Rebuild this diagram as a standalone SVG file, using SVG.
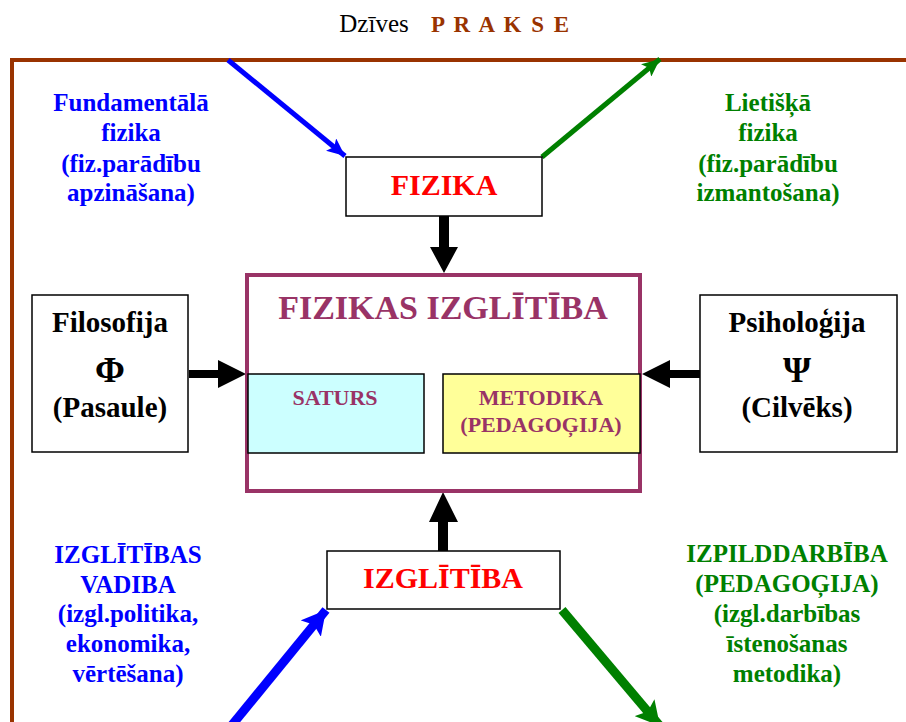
<svg xmlns="http://www.w3.org/2000/svg" width="906" height="722" viewBox="0 0 906 722">
<style>
text{font-family:"Liberation Serif","Times New Roman",serif;font-weight:bold;text-anchor:middle}
.blue{fill:#0000FF;font-size:25px}
.green{fill:#008000;font-size:25px}
.blk{fill:#000;font-size:29px}
.sym{fill:#000;font-size:36px}
.box{fill:#fff;stroke:#000;stroke-width:1.5}
.pur{fill:#993366}
.ttl{font-weight:normal;font-size:25px;fill:#000}
.prk{fill:#993300;font-size:23px;letter-spacing:2px}
</style>
<defs>
<marker id="hb1" markerUnits="userSpaceOnUse" markerWidth="20" markerHeight="16" refX="18" refY="8" orient="auto"><path d="M0,0 L18,8 L0,16 L4,8 Z" fill="#0000FF"/></marker>
<marker id="hg1" markerUnits="userSpaceOnUse" markerWidth="20" markerHeight="16" refX="18" refY="8" orient="auto"><path d="M0,0 L18,8 L0,16 L4,8 Z" fill="#008000"/></marker>
<marker id="hb2" markerUnits="userSpaceOnUse" markerWidth="26" markerHeight="26" refX="24" refY="13" orient="auto"><path d="M0,0 L24,13 L0,26 L5,13 Z" fill="#0000FF"/></marker>
<marker id="hg2" markerUnits="userSpaceOnUse" markerWidth="26" markerHeight="26" refX="24" refY="13" orient="auto"><path d="M0,0 L24,13 L0,26 L5,13 Z" fill="#008000"/></marker>
</defs>

<text class="ttl" x="374" y="32">Dzīves</text>
<text class="prk" x="501" y="32">P R A K S E</text>

<path d="M12,722 L12,60 L906,60" fill="none" stroke="#993300" stroke-width="4"/>

<g id="connectors">
<line x1="228" y1="60" x2="345" y2="156" stroke="#0000FF" stroke-width="5" marker-end="url(#hb1)"/>
<line x1="542" y1="157" x2="660" y2="59" stroke="#008000" stroke-width="5" marker-end="url(#hg1)"/>
<line x1="232" y1="725" x2="326" y2="610" stroke="#0000FF" stroke-width="9" marker-end="url(#hb2)"/>
<line x1="562" y1="610" x2="660" y2="726" stroke="#008000" stroke-width="9" marker-end="url(#hg2)"/>
<polygon points="439,216 449,216 449,247 458,247 444,273 430,247 439,247" fill="#000"/>
<polygon points="438,551 448,551 448,522 458,522 443,492 429,522 438,522" fill="#000"/>
<polygon points="189,370 218,370 218,360 246,374 218,388 218,378 189,378" fill="#000"/>
<polygon points="700,370 670,370 670,360 642,374 670,388 670,378 700,378" fill="#000"/>
<line x1="424" y1="334" x2="346" y2="373" stroke="#000" stroke-width="2"/>
<line x1="443" y1="334" x2="522" y2="373" stroke="#000" stroke-width="2"/>
</g>

<g id="label-fund">
<text class="blue" x="131" y="111">Fundamentālā</text>
<text class="blue" x="131" y="141">fizika</text>
<text class="blue" x="131" y="172">(fiz.parādību</text>
<text class="blue" x="131" y="201">apzināšana)</text>
</g>
<g id="label-liet">
<text class="green" x="768" y="111">Lietišķā</text>
<text class="green" x="768" y="141">fizika</text>
<text class="green" x="768" y="172">(fiz.parādību</text>
<text class="green" x="768" y="201">izmantošana)</text>
</g>

<g id="fizika">
<rect class="box" x="346" y="157" width="196" height="59"/>
<text x="444" y="195" fill="#FF0000" font-size="30px">FIZIKA</text>
</g>

<g id="fizikas-izglitiba">
<rect x="247" y="275" width="393" height="216" fill="#fff" stroke="#993366" stroke-width="4"/>
<text class="pur" x="443" y="319" font-size="34px">FIZIKAS IZGLĪTĪBA</text>
</g>

<g id="saturs">
<rect x="248" y="374" width="176" height="79" fill="#CCFFFF" stroke="#000" stroke-width="1.5"/>
<text class="pur" x="335" y="405" font-size="22px">SATURS</text>
</g>

<g id="metodika">
<rect x="443" y="374" width="197" height="79" fill="#FFFF99" stroke="#000" stroke-width="1.5"/>
<text class="pur" x="541" y="405" font-size="22px">METODIKA</text>
<text class="pur" x="541" y="432" font-size="22px">(PEDAGOĢIJA)</text>
</g>

<g id="filosofija">
<rect class="box" x="32" y="295" width="156" height="157"/>
<text class="blk" x="110" y="332">Filosofija</text>
<text class="sym" x="110" y="382">Φ</text>
<text class="blk" x="110" y="417">(Pasaule)</text>
</g>

<g id="psihologija">
<rect class="box" x="700" y="295" width="197" height="157"/>
<text class="blk" x="797" y="332">Psiholoģija</text>
<text class="sym" x="797" y="382">Ψ</text>
<text class="blk" x="797" y="417">(Cilvēks)</text>
</g>

<g id="izglitiba">
<rect class="box" x="327" y="551" width="233" height="58"/>
<text x="443" y="588" fill="#FF0000" font-size="30px">IZGLĪTĪBA</text>
</g>

<g id="label-vadiba">
<text class="blue" x="128" y="563">IZGLĪTĪBAS</text>
<text class="blue" x="128" y="593">VADIBA</text>
<text class="blue" x="128" y="622">(izgl.politika,</text>
<text class="blue" x="128" y="652">ekonomika,</text>
<text class="blue" x="128" y="682">vērtēšana)</text>
</g>

<g id="label-izpild">
<text class="green" x="787" y="562">IZPILDDARBĪBA</text>
<text class="green" x="787" y="592">(PEDAGOĢIJA)</text>
<text class="green" x="787" y="622">(izgl.darbības</text>
<text class="green" x="787" y="652">īstenošanas</text>
<text class="green" x="787" y="682">metodika)</text>
</g>
</svg>
